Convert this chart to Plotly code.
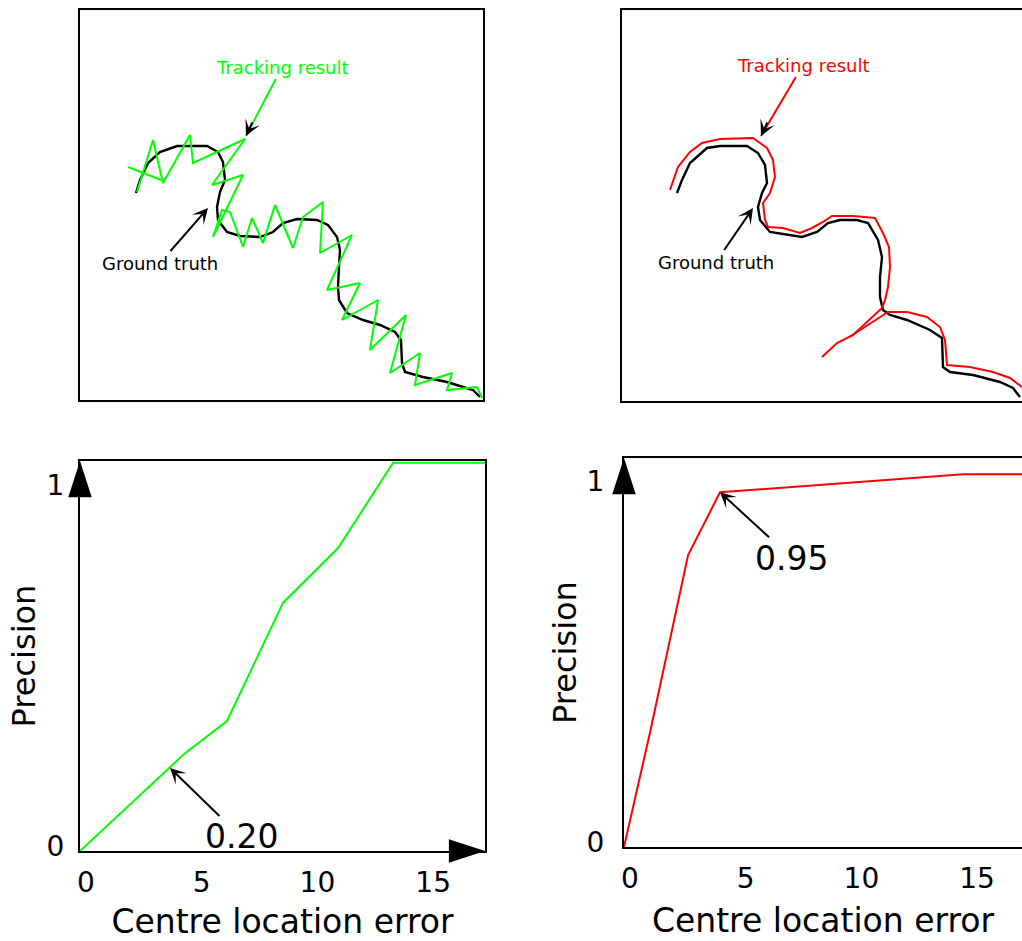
import plotly.graph_objects as go

W, H = 1022, 941
FONT = "DejaVu Sans"
GREEN = "#00ff00"
RED = "#ff0000"

# ---------------- Top panels: trajectories (drawing units = px inside each frame, y downward)
gt_left_x = [56, 60, 68, 80, 97, 127, 138, 143, 145, 140, 137, 138, 147, 160, 180, 193, 203, 217, 237, 248,
             257, 260, 259, 258, 259, 267, 283, 300, 315, 321, 322, 325, 343, 367, 383, 393, 400]
gt_left_y = [183, 170, 153, 142, 136, 136, 142, 152, 170, 182, 197, 210, 222, 226, 227, 222, 213, 209, 210, 215,
             227, 240, 257, 277, 290, 303, 310, 315, 322, 330, 353, 362, 367, 372, 377, 380, 387]
track_left_x = [48, 81, None,
                57, 73, 83, 110, 113, 165, 132, 163, 133, 142, 150, 163, 172, 183, 195, 213, 223, 243, 240,
                272, 247, 280, 262, 298, 290, 326, 310, 340, 335, 372, 367, 397, 402]
track_left_y = [157, 170, None,
                182, 130, 173, 125, 153, 129, 175, 165, 227, 200, 202, 237, 208, 233, 195, 238, 207, 192, 243,
                225, 280, 273, 310, 290, 340, 305, 363, 343, 375, 363, 380, 377, 388]

gt_right_x = [55, 60, 68, 85, 98, 125, 136, 143, 145, 140, 136, 138, 148, 165, 180, 195, 206, 218, 235, 246,
              256, 260, 258, 258, 261, 268, 285, 308, 320, 321, 328, 351, 378, 391, 398]
gt_right_y = [183, 170, 153, 138, 136, 136, 143, 155, 173, 183, 197, 210, 222, 225, 227, 222, 213, 210, 210, 213,
              230, 247, 267, 287, 300, 305, 310, 320, 328, 357, 362, 365, 372, 378, 387]
track_right_x = [48, 56, 68, 80, 98, 131, 145, 151, 153, 148, 141, 143, 146, 161, 178, 190, 201, 210, 231, 253,
                 261, 267, 268, 266, 263, 260, 231, 215, 200, None,
                 229, 266, 285, 305, 318, 323, 325, 348, 371, 388, 400]
track_right_y = [180, 157, 142, 133, 129, 128, 138, 150, 167, 183, 193, 210, 217, 218, 223, 218, 212, 206, 206, 208,
                 223, 237, 257, 277, 290, 298, 325, 333, 347, None,
                 326, 302, 302, 307, 317, 330, 355, 357, 362, 368, 377]

# ---------------- Bottom panels: precision vs centre location error
err_green = [0, 4.54, 6.35, 8.77, 11.15, 13.53, 17.5]
prec_green = [0, 0.271, 0.36, 0.687, 0.839, 1.075, 1.075]
err_red = [0, 1.12, 2.77, 4.15, 14.65, 17.5]
prec_red = [0, 0.316, 0.809, 0.983, 1.033, 1.033]
x_ticks = [0, 5, 10, 15]
y_ticks = [0, 1]
x_max = 17.5
y_max_left = 1.08
y_max_right = 1.078

fig = go.Figure()

fig.add_trace(go.Scatter(x=gt_left_x, y=gt_left_y, mode="lines", line=dict(color="black", width=2.4),
                         xaxis="x", yaxis="y", showlegend=False, hoverinfo="skip"))
fig.add_trace(go.Scatter(x=track_left_x, y=track_left_y, mode="lines", line=dict(color=GREEN, width=2),
                         connectgaps=False, xaxis="x", yaxis="y", showlegend=False, hoverinfo="skip"))
fig.add_trace(go.Scatter(x=gt_right_x, y=gt_right_y, mode="lines", line=dict(color="black", width=2.4),
                         xaxis="x2", yaxis="y2", showlegend=False, hoverinfo="skip"))
fig.add_trace(go.Scatter(x=track_right_x, y=track_right_y, mode="lines", line=dict(color=RED, width=2),
                         connectgaps=False, xaxis="x2", yaxis="y2", showlegend=False, hoverinfo="skip"))

fig.add_trace(go.Scatter(x=err_green, y=prec_green, mode="lines", line=dict(color=GREEN, width=2),
                         xaxis="x3", yaxis="y3", showlegend=False))
fig.add_trace(go.Scatter(x=err_red, y=prec_red, mode="lines", line=dict(color=RED, width=2),
                         xaxis="x4", yaxis="y4", showlegend=False))

# axis arrowheads
for xa, ya, ymax in (("x3", "y3", y_max_left), ("x4", "y4", y_max_right)):
    fig.add_trace(go.Scatter(x=[0, x_max], y=[ymax, 0], mode="markers", cliponaxis=False,
                             marker=dict(symbol="arrow", size=38, angle=[0, 90], color="black",
                                         line=dict(width=0)),
                             xaxis=xa, yaxis=ya, showlegend=False, hoverinfo="skip"))

frame = dict(showline=True, linecolor="black", linewidth=2, showgrid=False, zeroline=False,
             showticklabels=False, ticks="", fixedrange=True, automargin=False)

def px_x(a, b):
    return [a / W, b / W]

def px_y(top, bottom):
    return [1 - bottom / H, 1 - top / H]

tickfont = dict(family=FONT, size=28, color="black")
xtitlefont = dict(family=FONT, size=33, color="black")
ytitlefont = dict(family=FONT, size=32, color="black")

fig.update_layout(
    width=W, height=H, margin=dict(l=0, r=0, t=0, b=0, pad=0, autoexpand=False),
    paper_bgcolor="white", plot_bgcolor="white", showlegend=False,
    font=dict(family=FONT, color="black"),
    xaxis=dict(frame, domain=px_x(80, 483), range=[0, 403], mirror=True, anchor="y"),
    yaxis=dict(frame, domain=px_y(10, 400), range=[390, 0], mirror=True, anchor="x"),
    xaxis2=dict(frame, domain=[622 / W, 1], range=[0, 400], mirror=True, anchor="y2"),
    yaxis2=dict(frame, domain=px_y(10, 401), range=[391, 0], mirror=False, anchor="x2"),
    xaxis3=dict(frame, domain=px_x(80, 485), range=[0, x_max], mirror=True, anchor="y3",
                showticklabels=True, tickvals=x_ticks, tickfont=tickfont, ticklabelshift=6,
                ticklabelstandoff=5,
                title=dict(text="Centre location error", font=xtitlefont)),
    yaxis3=dict(frame, domain=px_y(461, 851), range=[0, y_max_left], mirror=True, anchor="x3",
                showticklabels=True, tickvals=y_ticks, tickfont=tickfont, ticklabelstandoff=8,
                ticklabelshift=-5,
                title=dict(text="Precision", font=ytitlefont, standoff=1)),
    xaxis4=dict(frame, domain=[624 / W, 1], range=[0, 17.2], mirror=True, anchor="y4",
                showticklabels=True, tickvals=x_ticks, tickfont=tickfont, ticklabelshift=6,
                ticklabelstandoff=5,
                title=dict(text="Centre location error", font=xtitlefont)),
    yaxis4=dict(frame, domain=px_y(458, 847), range=[0, y_max_right], mirror=False, anchor="x4",
                showticklabels=True, tickvals=y_ticks, tickfont=tickfont, ticklabelstandoff=12,
                ticklabelshift=-5,
                title=dict(text="Precision", font=ytitlefont, standoff=0)),
)

small = dict(family=FONT, size=18)
ann = []
# top-left
ann.append(dict(x=166, y=126, xref="x", yref="y", ax=202, ay=57, axref="x", ayref="y",
                text="Tracking result", font=dict(small, color=GREEN), showarrow=True,
                arrowhead=0, arrowwidth=2, arrowcolor=GREEN))
ann.append(dict(x=166, y=126, xref="x", yref="y", ax=7, ay=-15, text="", showarrow=True,
                arrowhead=3, arrowsize=1.3, arrowwidth=2, arrowcolor="black"))
ann.append(dict(x=128, y=198, xref="x", yref="y", ax=80, ay=253, axref="x", ayref="y",
                text="Ground truth", font=dict(small, color="black"), showarrow=True,
                arrowhead=3, arrowsize=1.3, arrowwidth=2, arrowcolor="black"))
# top-right
ann.append(dict(x=139, y=126, xref="x2", yref="y2", ax=181, ay=55, axref="x2", ayref="y2",
                text="Tracking result", font=dict(small, color=RED), showarrow=True,
                arrowhead=0, arrowwidth=2, arrowcolor=RED))
ann.append(dict(x=139, y=126, xref="x2", yref="y2", ax=7, ay=-15, text="", showarrow=True,
                arrowhead=3, arrowsize=1.3, arrowwidth=2, arrowcolor="black"))
ann.append(dict(x=131, y=198, xref="x2", yref="y2", ax=94, ay=252, axref="x2", ayref="y2",
                text="Ground truth", font=dict(small, color="black"), showarrow=True,
                arrowhead=3, arrowsize=1.3, arrowwidth=2, arrowcolor="black"))
# bottom panels
numfont = dict(family=FONT, size=33, color="black")
ann.append(dict(x=3.89, y=0.23, xref="x3", yref="y3", ax=6.96, ay=0.039, axref="x3", ayref="y3",
                text="0.20", font=numfont, showarrow=True,
                arrowhead=3, arrowsize=1.3, arrowwidth=2, arrowcolor="black"))
ann.append(dict(x=4.15, y=0.983, xref="x4", yref="y4", ax=7.26, ay=0.80, axref="x4", ayref="y4",
                text="0.95", font=numfont, showarrow=True,
                arrowhead=3, arrowsize=1.3, arrowwidth=2, arrowcolor="black"))
fig.update_layout(annotations=ann)

fig.write_html(
    "out.html",
    config={"displayModeBar": False},
    post_script="document.body.style.margin='0px';document.documentElement.style.overflow='hidden';",
)
